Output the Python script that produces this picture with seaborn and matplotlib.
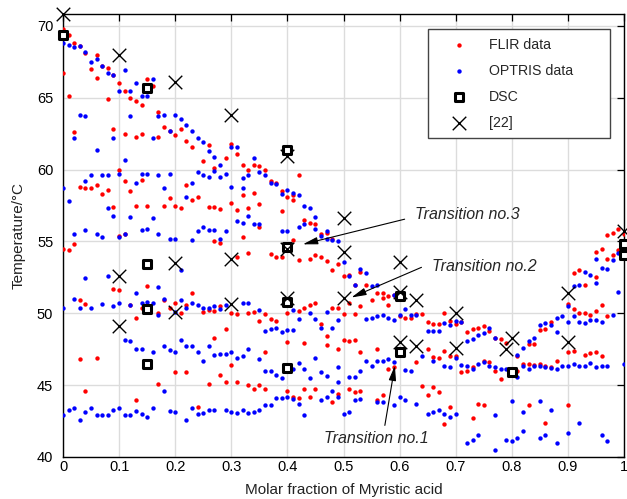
import numpy as np
import pandas as pd
import matplotlib
matplotlib.use("Agg")
import matplotlib.pyplot as plt
import seaborn as sns

# ==================== DATA ====================
# FLIR camera points, (molar fraction, temperature in degC)
flir_0_24 = [
    (0.00, 69.8), (0.01, 69.4), (0.02, 68.8), (0.03, 68.6), (0.04, 68.1), (0.05, 67.0),
    (0.06, 68.0), (0.07, 67.2), (0.08, 67.1), (0.09, 66.6), (0.10, 66.0), (0.11, 65.5),
    (0.12, 65.0), (0.13, 64.8), (0.14, 64.5), (0.15, 66.3), (0.16, 65.8),
    (0.00, 66.7), (0.01, 65.1), (0.06, 66.4), (0.08, 64.9),
    (0.02, 62.6), (0.09, 62.8), (0.11, 62.5), (0.13, 62.3), (0.14, 62.5), (0.17, 64.0),
    (0.18, 63.0), (0.17, 62.3), (0.19, 62.7), (0.20, 62.4), (0.21, 62.8), (0.22, 62.0),
    (0.23, 61.6),
    (0.10, 60.0), (0.03, 58.8), (0.04, 58.7), (0.05, 58.75), (0.06, 58.9), (0.07, 58.3),
    (0.08, 58.6), (0.11, 59.2), (0.12, 58.5), (0.14, 59.3), (0.09, 57.4), (0.13, 57.5),
    (0.15, 57.5), (0.18, 57.5), (0.19, 58.0), (0.20, 57.5), (0.21, 57.3), (0.22, 58.9),
    (0.23, 57.9), (0.24, 58.1),
    (0.10, 55.4), (0.11, 55.5), (0.00, 54.5), (0.01, 54.4), (0.02, 54.8),
    (0.09, 51.7), (0.10, 51.6), (0.15, 51.9), (0.23, 51.4),
    (0.03, 50.9), (0.04, 50.65), (0.12, 50.6), (0.14, 50.4), (0.17, 50.05), (0.18, 50.9),
    (0.19, 50.4), (0.20, 50.7), (0.21, 50.05), (0.22, 50.6), (0.13, 49.65),
    (0.03, 46.8), (0.06, 46.9), (0.20, 45.9), (0.22, 45.9), (0.17, 45.1), (0.04, 44.6),
    (0.13, 44.0), (0.24, 43.5),
]
flir_25_49 = [
    (0.25, 60.6), (0.26, 61.7), (0.27, 60.1), (0.29, 60.8), (0.30, 61.8), (0.31, 61.1),
    (0.32, 60.35), (0.33, 60.0), (0.34, 60.3), (0.35, 60.25), (0.36, 60.0), (0.37, 59.2),
    (0.38, 59.1), (0.39, 58.5), (0.40, 58.1), (0.41, 57.9), (0.42, 59.6), (0.43, 56.5),
    (0.44, 56.3), (0.45, 56.2), (0.46, 55.5), (0.47, 55.6), (0.48, 55.2),
    (0.26, 57.4), (0.27, 57.4), (0.28, 57.25), (0.30, 57.7), (0.31, 57.2), (0.32, 58.2),
    (0.33, 57.3), (0.34, 58.4), (0.35, 57.6), (0.35, 56.0), (0.39, 57.1), (0.41, 58.25),
    (0.32, 55.3), (0.27, 55.0), (0.28, 54.9), (0.41, 55.1),
    (0.31, 53.9), (0.33, 54.2), (0.37, 54.1), (0.38, 53.9), (0.39, 53.9), (0.42, 53.7),
    (0.44, 53.75), (0.45, 54.05), (0.46, 53.9), (0.47, 53.65), (0.48, 53.0), (0.49, 53.4),
    (0.25, 50.1), (0.26, 50.2), (0.27, 50.15), (0.28, 50.5), (0.30, 50.05), (0.31, 49.95),
    (0.33, 50.05), (0.34, 50.1), (0.36, 49.95), (0.35, 49.45), (0.37, 49.6), (0.38, 49.45),
    (0.40, 50.05), (0.42, 50.15), (0.43, 50.4), (0.44, 50.6), (0.45, 50.7), (0.46, 49.25),
    (0.48, 50.4), (0.49, 50.4), (0.47, 48.4),
    (0.29, 48.9), (0.27, 48.3), (0.40, 48.0), (0.43, 47.9), (0.47, 47.8), (0.49, 47.5),
    (0.36, 47.3), (0.30, 46.4),
    (0.28, 45.7), (0.26, 45.1), (0.29, 45.2), (0.31, 45.2), (0.33, 45.0), (0.35, 45.0),
    (0.36, 44.7), (0.34, 44.7), (0.40, 44.6), (0.43, 44.7), (0.45, 44.75), (0.44, 44.2),
    (0.48, 43.8), (0.41, 44.2), (0.42, 44.1),
]
flir_50_74 = [
    (0.50, 52.6), (0.51, 52.7), (0.52, 52.0), (0.53, 52.85), (0.54, 52.0), (0.57, 51.4),
    (0.58, 51.2), (0.59, 51.3),
    (0.50, 49.95), (0.51, 50.7), (0.52, 49.95), (0.53, 50.5), (0.55, 50.9), (0.56, 51.4),
    (0.57, 51.1), (0.58, 50.6), (0.60, 49.8), (0.61, 49.65), (0.62, 49.7), (0.63, 49.95),
    (0.64, 49.95), (0.65, 49.4), (0.66, 49.25), (0.67, 49.25), (0.68, 50.05), (0.69, 49.45),
    (0.70, 49.25), (0.71, 49.4), (0.72, 48.7), (0.73, 48.9),
    (0.50, 48.15), (0.51, 48.05), (0.52, 48.15), (0.53, 47.3), (0.56, 47.5), (0.63, 46.6),
    (0.65, 47.5), (0.66, 46.95), (0.67, 46.9), (0.68, 47.4), (0.69, 47.0), (0.70, 47.0),
    (0.71, 45.9), (0.72, 46.0), (0.73, 46.25), (0.58, 46.1), (0.59, 46.25),
    (0.49, 44.4), (0.51, 44.7), (0.52, 44.5), (0.53, 44.6), (0.56, 44.0), (0.57, 44.3),
    (0.64, 44.95), (0.65, 44.3), (0.66, 44.9), (0.67, 44.5), (0.68, 42.3), (0.69, 43.5),
    (0.73, 42.7),
]
flir_74_100 = [
    (0.90, 50.65), (0.91, 52.8), (0.92, 53.0), (0.93, 52.0), (0.95, 52.5), (0.95, 54.3),
    (0.96, 54.5), (0.97, 53.75), (0.98, 54.05), (0.99, 54.4), (1.00, 55.5), (0.97, 55.45),
    (0.98, 55.6), (0.99, 55.9),
    (0.74, 49.0), (0.75, 49.1), (0.76, 48.75), (0.77, 48.3), (0.78, 48.2), (0.79, 47.9),
    (0.81, 47.05), (0.82, 46.5), (0.83, 47.85), (0.84, 47.85), (0.85, 48.85), (0.86, 48.9),
    (0.87, 49.4), (0.91, 50.3), (0.92, 50.05), (0.93, 50.0), (0.94, 49.85), (0.95, 50.15),
    (0.96, 50.55), (0.97, 49.8),
    (0.75, 46.7), (0.76, 46.6), (0.77, 46.0), (0.78, 45.4), (0.81, 46.0), (0.83, 46.5),
    (0.84, 46.4), (0.85, 46.5), (0.86, 46.3), (0.87, 46.25), (0.88, 46.7), (0.90, 47.3),
    (0.91, 47.4), (0.93, 47.1), (0.94, 47.25), (0.95, 47.3), (0.96, 47.05),
    (0.74, 43.7), (0.75, 43.6), (0.83, 43.6), (0.86, 42.4), (0.90, 43.6),
]

# OPTRIS camera points
optris_0_24 = [
    (0.00, 68.8), (0.01, 68.7), (0.02, 68.5), (0.03, 68.6), (0.04, 68.2), (0.05, 67.5),
    (0.06, 67.7), (0.07, 67.2), (0.08, 66.7), (0.09, 66.6), (0.10, 65.5), (0.11, 66.9),
    (0.12, 65.5), (0.13, 66.0), (0.14, 65.1), (0.15, 65.1), (0.16, 66.3),
    (0.03, 63.8), (0.04, 63.7), (0.12, 63.7), (0.17, 63.7), (0.18, 63.8), (0.20, 63.8),
    (0.21, 63.5), (0.22, 63.1), (0.23, 62.7), (0.24, 62.2), (0.02, 62.2), (0.09, 62.2),
    (0.16, 62.2), (0.19, 62.7), (0.06, 61.4), (0.11, 60.7),
    (0.00, 58.7), (0.01, 57.8), (0.04, 59.2), (0.05, 59.6), (0.07, 59.6), (0.08, 59.6),
    (0.10, 59.7), (0.13, 59.1), (0.14, 59.7), (0.15, 59.7), (0.17, 59.6), (0.19, 59.7),
    (0.24, 59.8), (0.23, 59.1), (0.18, 58.7), (0.22, 58.1), (0.08, 57.3), (0.09, 56.8),
    (0.12, 56.7), (0.16, 56.6),
    (0.02, 55.5), (0.04, 55.8), (0.06, 55.5), (0.07, 55.3), (0.10, 55.3), (0.11, 55.5),
    (0.14, 55.8), (0.15, 55.9), (0.17, 55.5), (0.19, 55.2), (0.20, 55.2), (0.23, 55.1),
    (0.24, 55.7),
    (0.04, 52.45), (0.08, 52.6), (0.21, 53.0), (0.17, 51.85), (0.13, 51.4),
    (0.00, 50.4), (0.02, 51.0), (0.03, 50.4), (0.05, 50.4), (0.07, 50.65), (0.09, 50.5),
    (0.10, 50.7), (0.12, 50.6), (0.14, 50.7), (0.15, 50.8), (0.16, 50.7), (0.17, 49.9),
    (0.18, 51.0), (0.20, 50.1), (0.21, 50.9), (0.22, 50.4), (0.23, 50.7), (0.24, 50.6),
    (0.11, 48.15), (0.12, 48.1), (0.13, 47.55), (0.14, 47.5), (0.16, 47.3), (0.18, 47.7),
    (0.19, 47.45), (0.20, 47.3), (0.21, 48.15), (0.22, 47.7), (0.23, 47.7), (0.24, 47.3),
    (0.18, 44.6),
    (0.00, 42.9), (0.01, 43.3), (0.02, 43.4), (0.03, 42.6), (0.04, 43.1), (0.05, 43.4),
    (0.06, 42.9), (0.07, 42.9), (0.08, 42.9), (0.09, 43.3), (0.10, 43.4), (0.11, 42.9),
    (0.12, 42.9), (0.13, 43.2), (0.14, 43.0), (0.15, 42.8), (0.16, 43.4), (0.19, 43.2),
    (0.20, 43.1), (0.22, 42.6), (0.23, 43.4), (0.24, 43.0),
]
optris_25_49 = [
    (0.25, 61.9), (0.26, 61.3), (0.27, 60.9), (0.28, 60.35), (0.29, 59.7), (0.30, 61.6),
    (0.31, 61.6), (0.32, 59.4), (0.33, 59.6), (0.34, 60.8), (0.35, 59.8), (0.36, 59.6),
    (0.37, 59.1), (0.38, 59.0), (0.39, 58.3), (0.40, 58.6), (0.41, 58.4), (0.42, 58.2),
    (0.43, 57.5), (0.44, 57.3), (0.45, 56.7), (0.45, 55.9), (0.47, 55.7), (0.48, 55.1),
    (0.49, 55.0),
    (0.25, 59.6), (0.26, 59.5), (0.27, 59.9), (0.28, 59.5), (0.30, 58.8), (0.32, 58.75),
    (0.33, 56.8), (0.31, 56.4), (0.32, 56.3), (0.34, 56.25), (0.35, 56.2),
    (0.25, 56.0), (0.26, 55.8), (0.27, 55.8), (0.29, 55.7), (0.28, 55.2), (0.39, 55.7),
    (0.40, 55.7), (0.42, 56.0), (0.43, 56.25), (0.46, 55.4), (0.47, 55.2),
    (0.25, 50.35), (0.26, 50.4), (0.27, 50.5), (0.28, 50.3), (0.29, 50.6), (0.32, 50.7),
    (0.33, 50.7), (0.35, 50.2), (0.41, 50.25), (0.42, 49.6), (0.44, 50.0), (0.45, 49.6),
    (0.47, 50.1), (0.46, 49.0), (0.48, 49.0), (0.36, 48.8), (0.37, 48.9), (0.38, 49.0),
    (0.39, 48.7), (0.40, 48.85), (0.41, 48.85),
    (0.25, 46.7), (0.26, 47.7), (0.27, 47.1), (0.28, 47.2), (0.29, 47.2), (0.30, 47.3),
    (0.31, 46.9), (0.32, 47.0), (0.33, 47.5), (0.35, 46.85), (0.36, 46.0), (0.37, 46.0),
    (0.38, 45.7), (0.39, 45.5), (0.41, 46.1), (0.42, 46.55), (0.43, 46.1), (0.44, 45.5),
    (0.45, 46.9), (0.46, 45.95), (0.47, 45.65), (0.48, 44.6), (0.49, 45.2),
    (0.25, 43.05), (0.26, 43.3), (0.27, 43.3), (0.29, 43.25), (0.30, 43.1), (0.31, 43.05),
    (0.32, 43.3), (0.33, 43.05), (0.34, 43.1), (0.35, 43.3), (0.36, 43.6), (0.37, 43.6),
    (0.38, 44.1), (0.39, 44.1), (0.40, 44.15), (0.41, 44.05), (0.42, 43.7), (0.43, 42.9),
    (0.46, 44.0), (0.47, 44.2),
]
optris_50_74 = [
    (0.50, 53.6), (0.51, 52.6), (0.52, 51.95), (0.53, 53.1), (0.54, 52.8), (0.55, 51.9),
    (0.56, 52.0), (0.59, 51.3), (0.61, 50.3),
    (0.49, 49.5), (0.54, 49.6), (0.55, 49.7), (0.56, 49.8), (0.57, 49.9), (0.58, 49.7),
    (0.59, 49.5), (0.60, 49.9), (0.62, 49.85), (0.63, 49.85), (0.65, 48.75), (0.66, 48.75),
    (0.67, 48.8), (0.68, 49.3), (0.69, 49.2), (0.70, 49.45), (0.71, 49.4), (0.72, 48.1),
    (0.73, 48.2), (0.74, 48.5),
    (0.49, 46.25), (0.51, 45.55), (0.52, 45.6), (0.53, 46.0), (0.54, 46.7), (0.55, 46.35),
    (0.56, 46.7), (0.57, 46.7), (0.58, 46.85), (0.59, 46.6), (0.61, 46.05), (0.62, 46.0),
    (0.64, 47.0), (0.66, 46.7), (0.68, 46.3), (0.69, 46.25), (0.70, 46.9), (0.71, 46.4),
    (0.72, 46.35), (0.73, 46.15),
    (0.49, 44.2), (0.50, 43.0), (0.51, 43.1), (0.52, 44.0), (0.53, 44.05), (0.56, 43.8),
    (0.57, 43.8), (0.59, 43.6), (0.60, 44.2), (0.61, 44.0), (0.63, 43.7), (0.65, 43.0),
    (0.66, 43.1), (0.67, 43.3), (0.68, 43.0), (0.69, 42.8), (0.70, 43.0), (0.72, 41.0),
    (0.73, 41.2),
]
optris_75_100 = [
    (0.90, 50.5), (0.91, 51.9), (0.92, 52.0), (0.93, 52.9), (0.94, 52.7), (0.95, 52.1),
    (0.95, 53.8), (0.96, 53.15), (0.97, 53.1), (0.98, 53.7), (0.99, 54.2),
    (0.75, 48.6), (0.76, 49.0), (0.77, 48.3), (0.81, 47.1), (0.82, 47.6), (0.83, 48.1),
    (0.84, 48.25), (0.85, 49.2), (0.86, 49.3), (0.87, 49.2), (0.88, 48.7), (0.88, 49.7),
    (0.89, 49.8), (0.90, 49.4), (0.91, 49.8), (0.92, 49.4), (0.93, 49.3), (0.94, 49.55),
    (0.95, 49.5), (0.96, 49.4), (0.98, 49.9), (0.99, 51.45),
    (0.74, 46.45), (0.75, 46.6), (0.76, 46.35), (0.77, 46.25), (0.78, 46.1), (0.79, 46.1),
    (0.80, 46.0), (0.81, 45.55), (0.82, 46.3), (0.83, 46.15), (0.84, 46.35), (0.85, 46.3),
    (0.86, 46.25), (0.87, 46.2), (0.88, 46.15), (0.89, 46.35), (0.90, 46.3), (0.91, 46.5),
    (0.92, 46.3), (0.93, 46.35), (0.94, 46.55), (0.95, 46.25), (0.96, 46.35), (0.97, 46.3),
    (1.00, 46.5),
    (0.77, 42.9), (0.80, 43.9), (0.82, 43.1), (0.85, 43.9), (0.87, 43.3), (0.92, 42.4),
    (0.74, 41.5), (0.77, 40.5), (0.79, 41.2), (0.80, 41.1), (0.81, 41.3), (0.82, 41.8),
    (0.85, 41.3), (0.86, 41.5), (0.88, 41.0), (0.90, 41.7), (0.96, 41.5), (0.97, 41.1),
]

# DSC measurements
dsc_x = [0.00, 0.15, 0.15, 0.15, 0.15, 0.40, 0.40, 0.40, 0.40, 0.60, 0.60, 0.80, 1.00, 1.00]
dsc_t = [69.4, 65.7, 53.4, 50.3, 46.5, 61.4, 54.6, 50.8, 46.2, 51.2, 47.3, 45.95, 54.8, 54.05]

# literature values [22]
ref_x = [0.00, 0.10, 0.20, 0.30, 0.40, 0.10, 0.10, 0.20, 0.20, 0.30, 0.30, 0.40, 0.40,
         0.50, 0.50, 0.50, 0.60, 0.60, 0.63, 0.60, 0.63, 0.70, 0.70, 0.80, 0.79, 0.90,
         0.90, 1.00]
ref_t = [70.8, 68.0, 66.1, 63.8, 60.95, 52.6, 49.1, 53.5, 50.1, 53.8, 50.65, 54.5, 51.1,
         56.6, 54.3, 51.1, 53.6, 51.45, 50.9, 48.0, 47.7, 50.0, 47.6, 48.25, 47.5, 51.4,
         48.0, 55.7]

# ==================== FRAME ====================
flir = pd.DataFrame(flir_0_24 + flir_25_49 + flir_50_74 + flir_74_100, columns=["x", "T"])
optris = pd.DataFrame(optris_0_24 + optris_25_49 + optris_50_74 + optris_75_100,
                      columns=["x", "T"])
dsc = pd.DataFrame({"x": dsc_x, "T": dsc_t})
ref = pd.DataFrame({"x": ref_x, "T": ref_t})

sns.set_style("white")
plt.rcParams["font.family"] = ["Liberation Sans", "DejaVu Sans"]

fig = plt.figure(figsize=(6.27, 4.99), dpi=100)
ax = fig.add_axes([63 / 627, 1 - 457 / 499, 561 / 627, 443 / 499])

sns.scatterplot(data=flir, x="x", y="T", ax=ax, color="#ff0000", s=10,
                linewidth=0, label="FLIR data", zorder=3)
sns.scatterplot(data=optris, x="x", y="T", ax=ax, color="#0000ff", s=10,
                linewidth=0, label="OPTRIS data", zorder=3)
sns.scatterplot(data=dsc, x="x", y="T", ax=ax, marker="s", color="white",
                edgecolor="black", linewidth=2.2, s=30, label="DSC",
                zorder=4, clip_on=False)
sns.scatterplot(data=ref, x="x", y="T", ax=ax, marker="x", color="black",
                linewidth=1.0, s=95, label="[22]", zorder=5, clip_on=False)

ax.set_xlim(0, 1)
ax.set_ylim(40, 70.83)
ax.set_xticks(np.arange(0, 1.01, 0.1))
ax.set_xticklabels(["0", "0.1", "0.2", "0.3", "0.4", "0.5", "0.6", "0.7", "0.8", "0.9", "1"])
ax.set_yticks([40, 45, 50, 55, 60, 65, 70])

ax.grid(True, color="#dcdcdc", linewidth=1.0)
ax.set_axisbelow(True)
for sp in ax.spines.values():
    sp.set_color("black")
    sp.set_linewidth(1.0)
ax.tick_params(direction="in", top=True, right=True, length=5, width=0.9,
               colors="black", labelsize=10.5)
ax.tick_params(axis="x", pad=2.5)
ax.tick_params(axis="y", pad=7)

ax.set_xlabel("Molar fraction of Myristic acid", fontsize=11, color="#222222")
ax.set_ylabel("Temperature/°C", fontsize=11, color="#222222")
ax.xaxis.set_label_coords(0.5, -0.058)
ax.xaxis.label.set_va("top")
ax.yaxis.set_label_coords(-0.066, 0.5)

# transition annotations
arrow = dict(arrowstyle="-|>,head_length=0.9,head_width=0.22", color="black",
             lw=0.8, shrinkA=0, shrinkB=0)
ax.annotate("", xy=(0.4275, 54.8), xytext=(0.609, 56.55), arrowprops=arrow)
ax.text(0.627, 56.55, "Transition no.3", fontsize=11.5, style="italic", va="baseline")
ax.annotate("", xy=(0.514, 51.1), xytext=(0.639, 53.2), arrowprops=arrow)
ax.text(0.657, 52.95, "Transition no.2", fontsize=11.5, style="italic", va="baseline")
ax.annotate("", xy=(0.5916, 46.36), xytext=(0.5737, 42.2), arrowprops=arrow)
ax.text(0.465, 41.0, "Transition no.1", fontsize=11.5, style="italic", va="baseline")

leg = ax.legend(loc="upper left", bbox_to_anchor=(0.651, 0.731, 0.324, 0.235),
                mode="expand", borderaxespad=0, fontsize=10.2, frameon=True,
                fancybox=False, framealpha=1, edgecolor="#444444",
                borderpad=0.6, handlelength=3.2, handletextpad=0.5, labelspacing=0.85)
leg.get_frame().set_linewidth(1.0)

fig.savefig("out.png", dpi=100)
